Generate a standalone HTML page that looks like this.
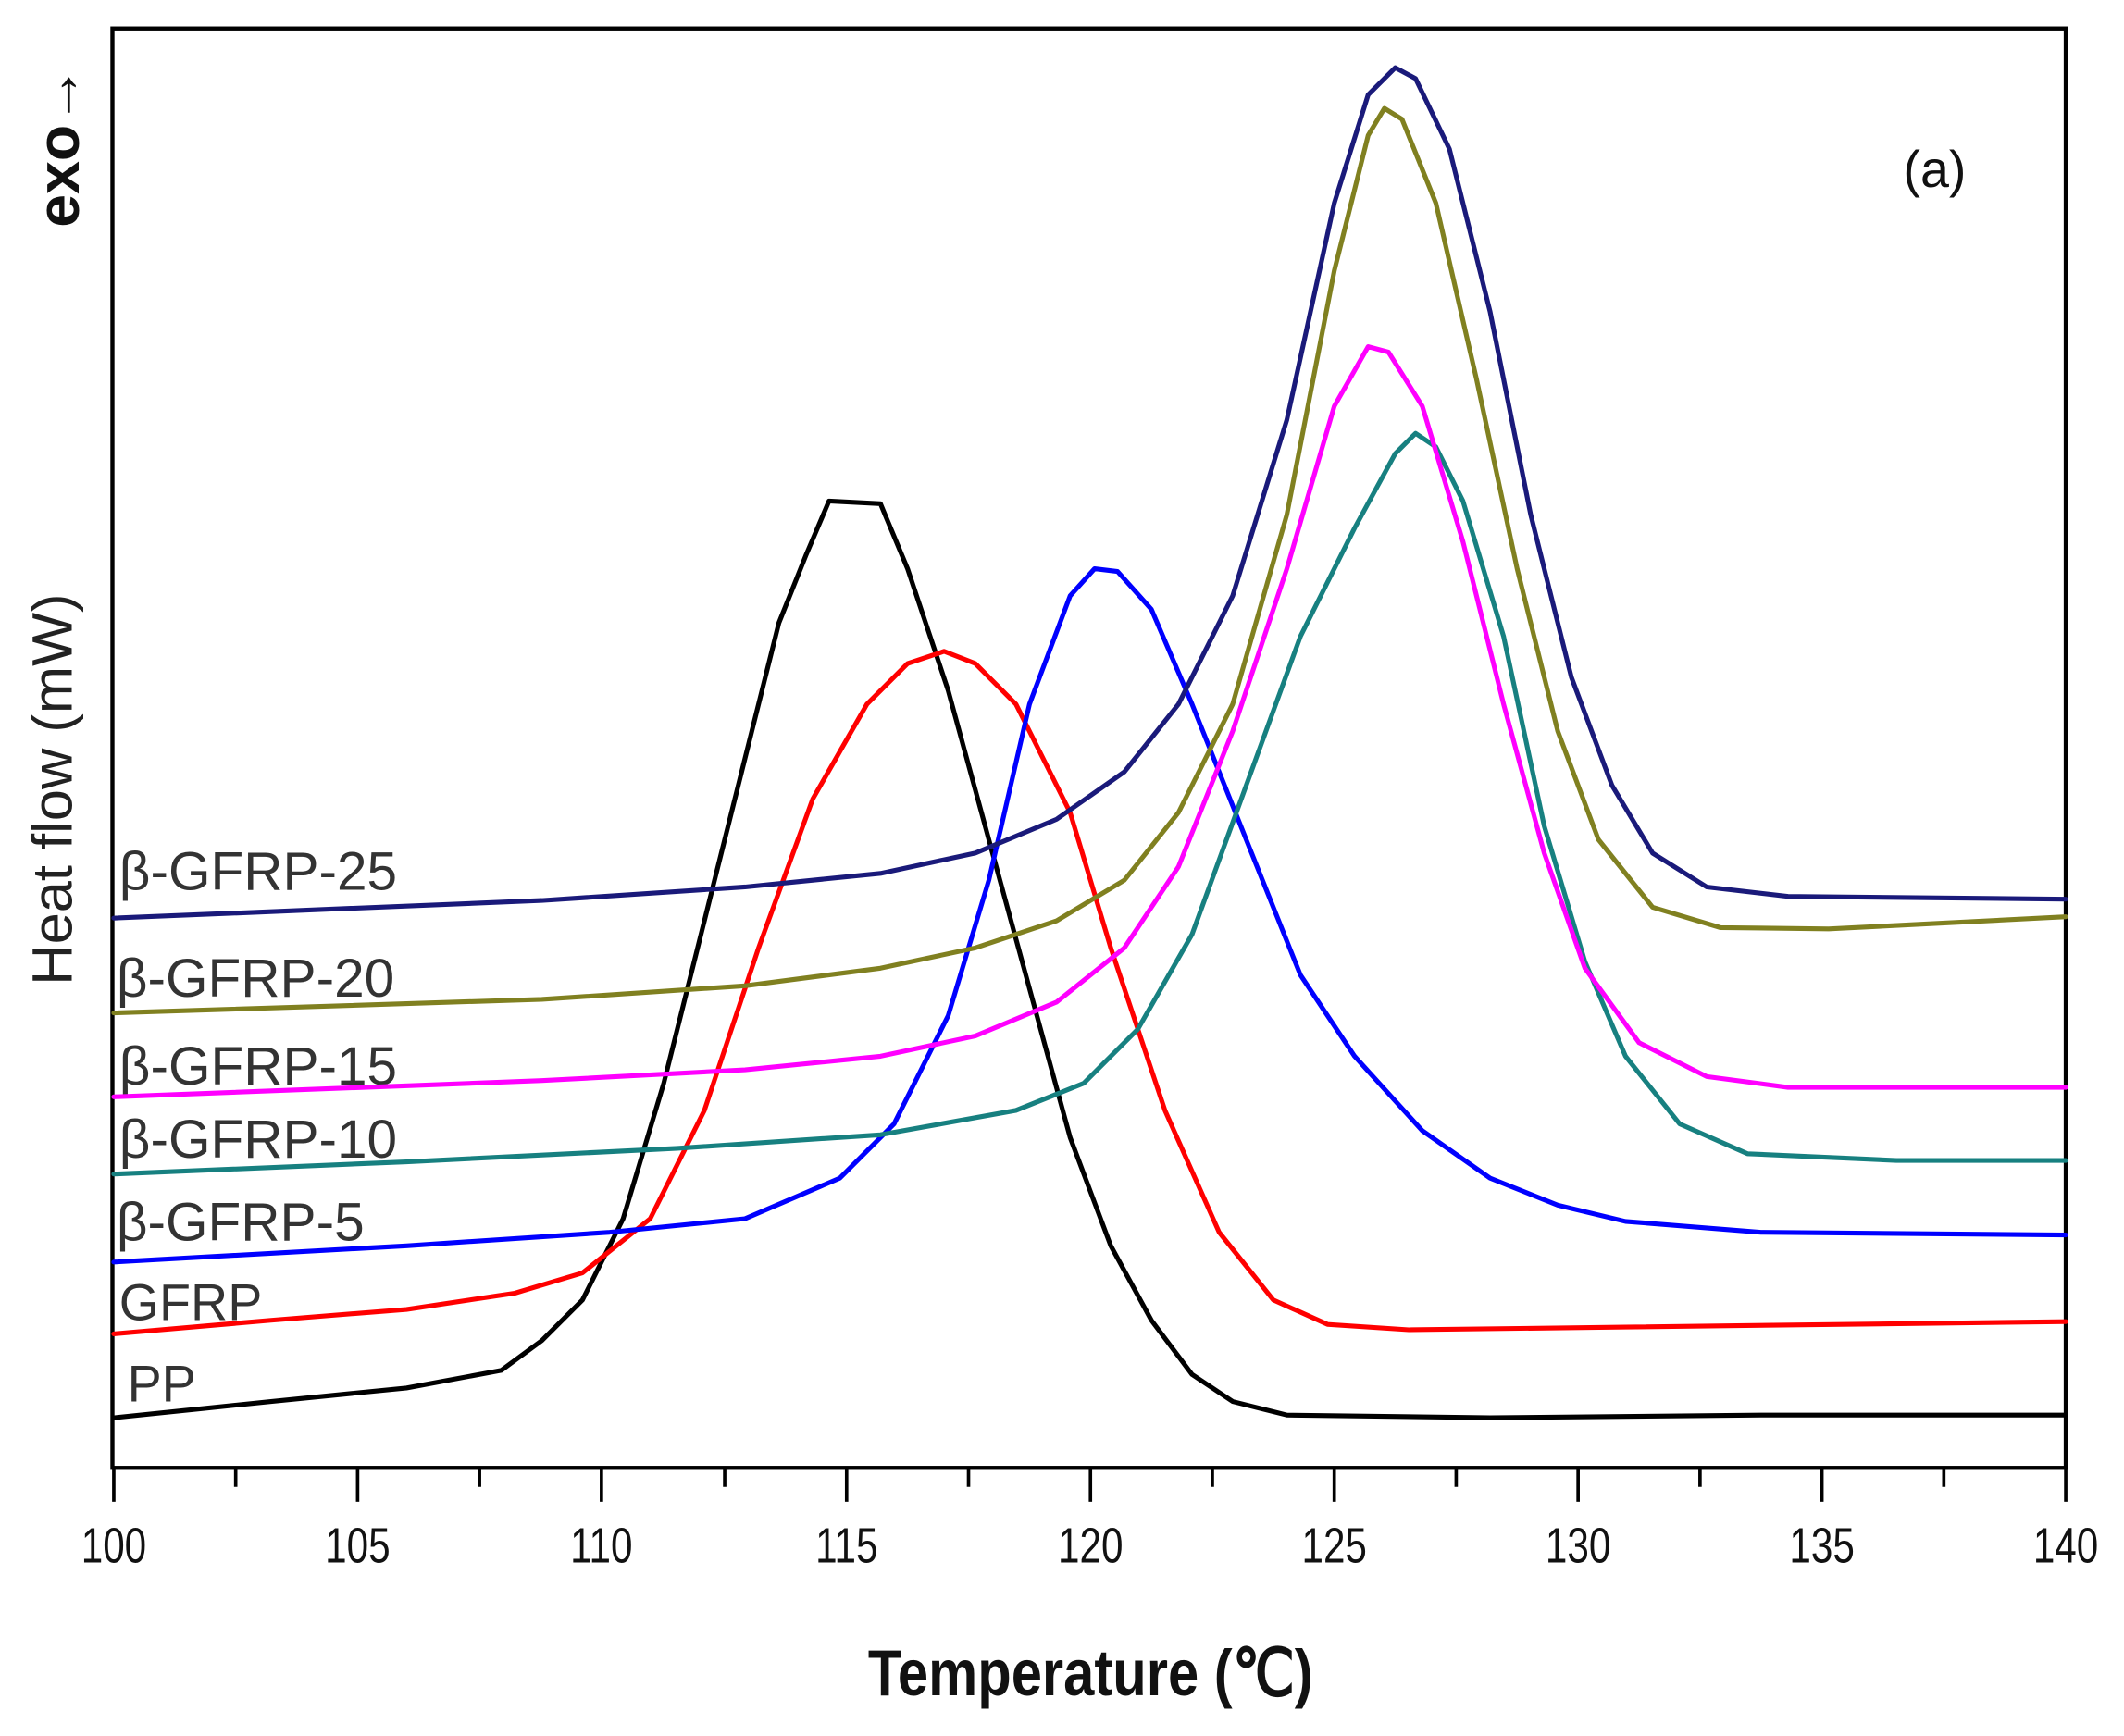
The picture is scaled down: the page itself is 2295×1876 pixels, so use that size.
<!DOCTYPE html>
<html><head><style>html,body{margin:0;padding:0;background:#fff;}svg{display:block;}</style></head>
<body>
<svg width="2295" height="1876" viewBox="0 0 1568 1282" preserveAspectRatio="none" xmlns="http://www.w3.org/2000/svg">
<rect width="1568" height="1282" fill="#fff"/>
<g fill="none" stroke="#000" stroke-width="3">
<rect x="83" y="21" width="1442" height="1063"/>
</g>
<g stroke="#000" stroke-width="2.5">
<line x1="84" y1="1084" x2="84" y2="1109"/><line x1="174" y1="1084" x2="174" y2="1098"/>
<line x1="264" y1="1084" x2="264" y2="1109"/><line x1="354" y1="1084" x2="354" y2="1098"/>
<line x1="444" y1="1084" x2="444" y2="1109"/><line x1="535" y1="1084" x2="535" y2="1098"/>
<line x1="625" y1="1084" x2="625" y2="1109"/><line x1="715" y1="1084" x2="715" y2="1098"/>
<line x1="805" y1="1084" x2="805" y2="1109"/><line x1="895" y1="1084" x2="895" y2="1098"/>
<line x1="985" y1="1084" x2="985" y2="1109"/><line x1="1075" y1="1084" x2="1075" y2="1098"/>
<line x1="1165" y1="1084" x2="1165" y2="1109"/><line x1="1255" y1="1084" x2="1255" y2="1098"/>
<line x1="1345" y1="1084" x2="1345" y2="1109"/><line x1="1435" y1="1084" x2="1435" y2="1098"/>
<line x1="1525" y1="1084" x2="1525" y2="1109"/>
</g>
<g font-family="Liberation Sans, sans-serif" font-size="37" fill="#111" text-anchor="middle">
<text x="84" y="1154" transform="translate(84 0) scale(0.78 1) translate(-84 0)">100</text>
<text x="264" y="1154" transform="translate(264 0) scale(0.78 1) translate(-264 0)">105</text>
<text x="444" y="1154" transform="translate(444 0) scale(0.78 1) translate(-444 0)">110</text>
<text x="625" y="1154" transform="translate(625 0) scale(0.78 1) translate(-625 0)">115</text>
<text x="805" y="1154" transform="translate(805 0) scale(0.78 1) translate(-805 0)">120</text>
<text x="985" y="1154" transform="translate(985 0) scale(0.78 1) translate(-985 0)">125</text>
<text x="1165" y="1154" transform="translate(1165 0) scale(0.78 1) translate(-1165 0)">130</text>
<text x="1345" y="1154" transform="translate(1345 0) scale(0.78 1) translate(-1345 0)">135</text>
<text x="1525" y="1154" transform="translate(1525 0) scale(0.78 1) translate(-1525 0)">140</text>
<text x="805" y="1252" font-weight="bold" font-size="48" transform="translate(805 0) scale(0.85 1) translate(-805 0)">Temperature (℃)</text>
</g>
<text x="0" y="0" font-family="Liberation Sans, sans-serif" font-size="42" fill="#222" text-anchor="middle" transform="translate(53 583) rotate(-90)">Heat flow  (mW)</text>
<text x="0" y="0" font-family="Liberation Sans, sans-serif" font-size="44" font-weight="bold" fill="#111" text-anchor="middle" transform="translate(58 108) rotate(-90)">exo→</text>
<text x="1405" y="138" font-family="Liberation Sans, sans-serif" font-size="38" fill="#111">(a)</text>
<g font-family="Liberation Sans, sans-serif" font-size="40" fill="#333">
<text x="88" y="657">β-GFRP-25</text>
<text x="86" y="736">β-GFRP-20</text>
<text x="88" y="801">β-GFRP-15</text>
<text x="88" y="855">β-GFRP-10</text>
<text x="86" y="916">β-GFRP-5</text>
<text x="88" y="975" font-size="38">GFRP</text>
<text x="94" y="1035" font-size="38">PP</text>
</g>
<g fill="none" stroke-width="3.5" stroke-linejoin="round" stroke-linecap="round">
<polyline stroke="#000" points="84,1047 200,1035 300,1025 370,1012 400,990 430,960 460,900 490,800 520,680 550,560 575,460 595,410 612,370 650,372 670,420 700,510 730,620 760,730 790,840 820,920 850,975 880,1015 910,1035 950,1045 1100,1047 1300,1045 1525,1045"/>
<polyline stroke="#ff0000" points="84,985 200,975 300,967 380,955 430,940 480,900 520,820 560,700 600,590 640,520 670,490 697,481 720,490 750,520 790,600 820,700 860,820 900,910 940,960 980,978 1040,982 1200,980 1525,976"/>
<polyline stroke="#0000ff" points="84,932 300,920 450,910 550,900 620,870 660,830 700,750 730,650 760,520 790,440 808,420 825,422 850,450 880,520 920,620 960,720 1000,780 1050,835 1100,870 1150,890 1200,902 1300,910 1525,912"/>
<polyline stroke="#178080" points="84,867 300,858 500,848 650,838 750,820 800,800 840,760 880,690 920,580 960,470 1000,390 1030,335 1045,320 1060,330 1080,370 1110,470 1140,610 1170,710 1200,780 1240,830 1290,852 1400,857 1525,857"/>
<polyline stroke="#ff00ff" points="84,810 400,798 550,790 650,780 720,765 780,740 830,700 870,640 910,540 950,420 985,300 1010,256 1025,260 1050,300 1080,400 1110,520 1140,630 1170,715 1210,770 1260,795 1320,803 1525,803"/>
<polyline stroke="#808020" points="84,748 400,738 550,728 650,715 720,700 780,680 830,650 870,600 910,520 950,380 985,200 1010,100 1022,80 1035,88 1060,150 1090,280 1120,420 1150,540 1180,620 1220,670 1270,685 1350,686 1525,677"/>
<polyline stroke="#1a1a7a" points="84,678 400,665 550,655 650,645 720,630 780,605 830,570 870,520 910,440 950,310 985,150 1010,70 1030,50 1045,58 1070,110 1100,230 1130,380 1160,500 1190,580 1220,630 1260,655 1320,662 1525,664"/>
</g>
</svg>
</body></html>
